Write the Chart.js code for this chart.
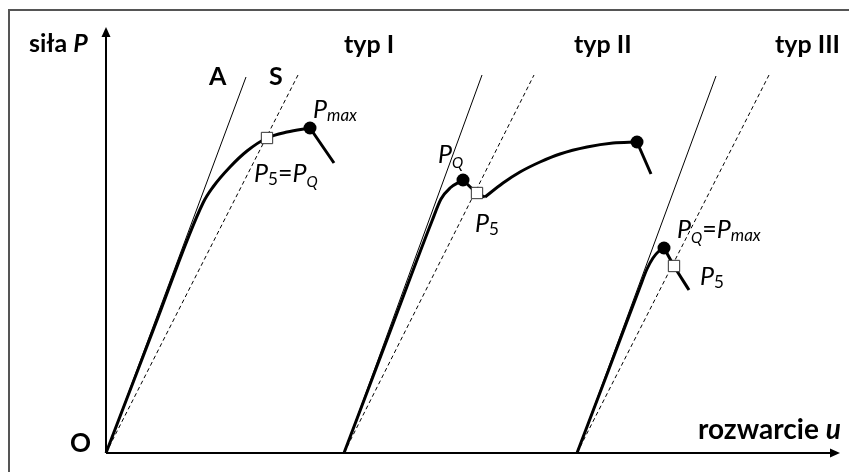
<!DOCTYPE html>
<html>
<head>
<meta charset="utf-8">
<script src="https://cdn.jsdelivr.net/npm/chart.js@4.4.1/dist/chart.umd.min.js"></script>
<style>
  html, body { margin: 0; padding: 0; background: #fff; }
</style>
</head>
<body>
<canvas id="chart" width="849" height="472"></canvas>
<script>
// rozwarcie u (x) vs siła P (y) - three typical curve types
// typ I
const typ1A = [[0, 0], [140, 376]];
const typ1S = [[0, 0], [192, 378]];
const typ1Curve = [[0, 0], [48, 125], [97, 250], [107, 266], [124, 286], [141, 302], [161, 315], [181, 321], [204, 325]];
const typ1Tail = [[204, 325], [228, 290]];

// typ II
const typ2A = [[238, 0], [376, 378]];
const typ2S = [[238, 0], [428, 378]];
const typ2Rise = [[238, 0], [282, 116], [326, 232], [335, 254], [344, 265], [357, 273]];
const typ2Drop = [[357, 273], [371, 260], [379, 256]];
const typ2Curve = [[379, 256], [397, 270], [414, 281], [434, 291], [454, 299], [481, 306], [507, 310], [531, 311]];
const typ2Tail = [[531, 311], [545, 279]];

// typ III
const typ3A = [[471, 0], [610, 377]];
const typ3S = [[471, 0], [663, 378]];
const typ3Curve = [[471, 0], [503, 84], [534, 166], [541, 184], [547, 195], [553, 202], [558, 205]];
const typ3Tail = [[558, 205], [568, 187], [583, 163]];

// characteristic points
const maxPoints = [[204, 325], [357, 273], [531, 311], [558, 205]];
const p5Points = [[161, 315], [371, 260], [568, 187]];

const toXY = (arr) => arr.map(([x, y]) => ({ x: x, y: y }));

const thin = (data) => ({ data: toXY(data), showLine: true, borderColor: '#000', borderWidth: 1, pointRadius: 0, order: 3 });
const dashed = (data) => ({ data: toXY(data), showLine: true, borderColor: '#000', borderWidth: 1, borderDash: [4, 3], pointRadius: 0, order: 3 });
const thick = (data) => ({ data: toXY(data), showLine: true, borderColor: '#000', borderWidth: 3, pointRadius: 0, cubicInterpolationMode: 'monotone', order: 2 });

// text labels: anchor [u, P] (left, baseline), parts [text, style, size, dy]
const textLabels = [
  { at: [-77, 401], parts: [['siła ', 'bold', 25, 0], ['P', 'italic bold', 25, 0]] },
  { at: [238, 400], parts: [['typ I', 'bold', 25, 0]] },
  { at: [468, 400], parts: [['typ II', 'bold', 25, 0]] },
  { at: [669, 400], parts: [['typ III', 'bold', 25, 0]] },
  { at: [103, 368], parts: [['A', 'bold', 25, 0]] },
  { at: [163, 368], parts: [['S', 'bold', 25, 0]] },
  { at: [207, 335], parts: [['P', 'italic', 25, 0], ['max', 'italic', 17, 3]] },
  { at: [148, 271], parts: [['P', 'italic', 25, 0], ['5', '', 17, 3], ['=', '', 25, 0], ['P', 'italic', 25, 0], ['Q', 'italic', 15, 5]] },
  { at: [332, 290], parts: [['P', 'italic', 25, 0], ['Q', 'italic', 15, 5]] },
  { at: [369, 221], parts: [['P', 'italic', 25, 0], ['5', '', 17, 3]] },
  { at: [571, 215], parts: [['P', 'italic', 25, 0], ['Q', 'italic', 15, 5], ['=', '', 25, 0], ['P', 'italic', 25, 0], ['max', 'italic', 17, 3]] },
  { at: [594, 168], parts: [['P', 'italic', 25, 0], ['5', '', 17, 3]] },
  { at: [-36, 1], parts: [['O', 'bold', 26, 0]] },
  { at: [592, 14], parts: [['rozwarcie ', 'bold', 28, 0], ['u', 'italic bold', 28, 0]] }
];

const decorPlugin = {
  id: 'decor',
  beforeDatasetsDraw(chart) {
    const ctx = chart.ctx;
    const xs = chart.scales.x, ys = chart.scales.y;
    const x0 = xs.getPixelForValue(0), y0 = ys.getPixelForValue(0);
    ctx.save();
    // frame
    ctx.strokeStyle = '#555';
    ctx.lineWidth = 2;
    ctx.beginPath();
    ctx.moveTo(9, chart.height + 5);
    ctx.lineTo(9, 10);
    ctx.lineTo(chart.width + 5, 10);
    ctx.stroke();
    // axes
    const yTop = ys.getPixelForValue(426);
    const xEnd = xs.getPixelForValue(734);
    ctx.strokeStyle = '#000';
    ctx.fillStyle = '#000';
    ctx.lineWidth = 2;
    ctx.beginPath();
    ctx.moveTo(x0, y0);
    ctx.lineTo(x0, yTop + 6);
    ctx.moveTo(x0, y0);
    ctx.lineTo(xEnd - 6, y0);
    ctx.stroke();
    ctx.beginPath();
    ctx.moveTo(x0, yTop);
    ctx.lineTo(x0 - 4.5, yTop + 10);
    ctx.lineTo(x0 + 4.5, yTop + 10);
    ctx.closePath();
    ctx.fill();
    ctx.beginPath();
    ctx.moveTo(xEnd, y0);
    ctx.lineTo(xEnd - 10, y0 - 4.5);
    ctx.lineTo(xEnd - 10, y0 + 4.5);
    ctx.closePath();
    ctx.fill();
    ctx.restore();
  },
  afterDatasetsDraw(chart) {
    const ctx = chart.ctx;
    const xs = chart.scales.x, ys = chart.scales.y;
    ctx.save();
    ctx.fillStyle = '#000';
    ctx.textBaseline = 'alphabetic';
    ctx.textAlign = 'left';
    textLabels.forEach(lab => {
      let x = xs.getPixelForValue(lab.at[0]);
      const y = ys.getPixelForValue(lab.at[1]);
      lab.parts.forEach(([t, style, size, dy]) => {
        ctx.font = (style ? style + ' ' : '') + size + 'px Lato, "Open Sans", sans-serif';
        ctx.fillText(t, x, y + dy);
        x += ctx.measureText(t).width;
      });
    });
    ctx.restore();
  }
};

new Chart(document.getElementById('chart'), {
  type: 'scatter',
  data: {
    datasets: [
      { data: toXY(maxPoints), pointStyle: 'circle', pointRadius: 6.5, pointBackgroundColor: '#000', pointBorderColor: '#000', pointBorderWidth: 0, order: 0 },
      { data: toXY(p5Points), pointStyle: 'rect', pointRadius: 8, pointBackgroundColor: '#fff', pointBorderColor: '#333', pointBorderWidth: 1, order: 1 },
      thick(typ1Curve), thick(typ1Tail),
      thick(typ2Rise), thick(typ2Drop), thick(typ2Curve), thick(typ2Tail),
      thick(typ3Curve), thick(typ3Tail),
      thin(typ1A), dashed(typ1S),
      thin(typ2A), dashed(typ2S),
      thin(typ3A), dashed(typ3S)
    ]
  },
  options: {
    responsive: false,
    animation: false,
    layout: { padding: 0, autoPadding: false },
    plugins: { legend: { display: false }, tooltip: { enabled: false } },
    scales: {
      x: { type: 'linear', display: false, min: -106, max: 743 },
      y: { type: 'linear', display: false, min: -19, max: 453 }
    }
  },
  plugins: [decorPlugin]
});
</script>
</body>
</html>
